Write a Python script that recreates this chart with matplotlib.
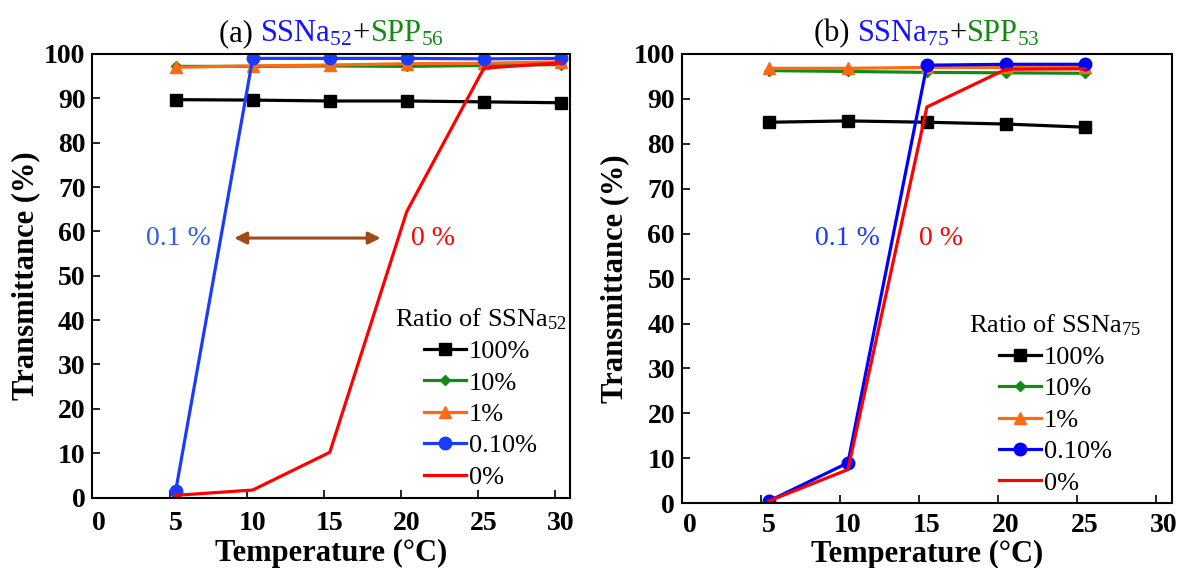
import matplotlib
matplotlib.use("Agg")
import matplotlib.pyplot as plt
from matplotlib.offsetbox import TextArea, HPacker, AnchoredOffsetbox
from matplotlib.transforms import ScaledTranslation

plt.rcParams['font.family'] = 'Liberation Serif'
plt.rcParams['mathtext.fontset'] = 'custom'
plt.rcParams['mathtext.rm'] = 'Liberation Serif'
plt.rcParams['mathtext.it'] = 'Liberation Serif:italic'
plt.rcParams['mathtext.bf'] = 'Liberation Serif:bold'

# panel (a) SSNa52 + SPP56
temp_a = [5.4, 10.4, 15.4, 20.4, 25.4, 30.4]
a_100 = [89.7, 89.6, 89.4, 89.4, 89.2, 89.0]
a_10 = [97.2, 97.2, 97.3, 97.2, 97.4, 97.6]
a_1 = [97.0, 97.3, 97.5, 97.8, 97.9, 98.2]
a_01 = [1.5, 99.0, 99.0, 99.0, 98.9, 99.0]
a_0 = [0.5, 1.7, 10.2, 64.5, 96.8, 98.0]

# panel (b) SSNa75 + SPP53
temp_b = [5.5, 10.5, 15.5, 20.5, 25.5]
b_100 = [84.8, 85.1, 84.8, 84.4, 83.7]
b_10 = [96.3, 96.1, 95.9, 95.8, 95.7]
b_1 = [96.8, 96.8, 97.0, 97.0, 97.0]
b_01 = [0.5, 9.0, 97.5, 97.7, 97.7]
b_0 = [0.5, 7.5, 88.2, 96.6, 96.7]

labels = ['100%', '10%', '1%', '0.10%', '0%']
xticks = [0, 5, 10, 15, 20, 25, 30]
yticks = list(range(0, 101, 10))

fig = plt.figure(figsize=(11.78, 5.68), dpi=100)
ax1 = fig.add_axes([0.0785, 0.124, 0.4055, 0.781])
ax2 = fig.add_axes([0.579, 0.114, 0.4157, 0.791])


def draw(ax, x, series, blue, sub, leg_x, lbl_shift, xpad, xlab_y):
    styles = [('black', 's', 8), ('#138a13', 'D', 5.5), ('#ff6a13', '^', 9),
              (blue, 'o', 9), ('#ff0000', None, 0)]
    for y, (c, m, ms), lab in zip(series, styles, labels):
        ax.plot(x, y, color=c, marker=m, markersize=ms, lw=2.3, label=lab)
    ax.set_xlim(0, 31)
    ax.set_ylim(0, 100)
    ax.set_xticks(xticks)
    ax.set_yticks(yticks)
    ax.tick_params(direction='in', length=6, width=1.2, labelsize=20, pad=5)
    ax.tick_params(axis='x', pad=xpad)
    for t in ax.get_xticklabels() + ax.get_yticklabels():
        t.set_fontweight('bold')
    for t in ax.get_xticklabels():
        t.set_transform(t.get_transform() + ScaledTranslation(lbl_shift / 100, 0, fig.dpi_scale_trans))
    for s in ax.spines.values():
        s.set_linewidth(1.5)
    ax.set_xlabel('Temperature (°C)', fontsize=22, fontweight='bold', va='center')
    ax.xaxis.set_label_coords(0.5, xlab_y)
    ax.set_ylabel('Transmittance (%)', fontsize=22, fontweight='bold', labelpad=3)
    leg = ax.legend(loc='lower right', bbox_to_anchor=(leg_x, -0.01), frameon=False,
                    title='Ratio of SSNa$_{' + sub + '}$', fontsize=19, title_fontsize=19,
                    handlelength=1.6, handletextpad=0.1, labelspacing=0.3,
                    borderaxespad=0.1)
    return leg


draw(ax1, temp_a, [a_100, a_10, a_1, a_01, a_0], '#1a3cff', '52', 1.02, 6, 10, -0.126)
draw(ax2, temp_b, [b_100, b_10, b_1, b_01, b_0], '#0000ff', '75', 0.965, 8, 7, -0.114)


def title(ax, tag, n1, n2):
    parts = [('(' + tag + ') ', 'black'), ('SSNa$_{' + n1 + '}$', '#1414ff'),
             ('+', 'black'), ('SPP$_{' + n2 + '}$', '#138a13')]
    boxes = [TextArea(s, textprops=dict(color=c, fontsize=22)) for s, c in parts]
    pack = HPacker(children=boxes, align='baseline', pad=0, sep=0)
    ab = AnchoredOffsetbox(loc='lower center', child=pack, frameon=False,
                           bbox_to_anchor=(0.5, 1.0), bbox_transform=ax.transAxes,
                           borderpad=0.0)
    ax.add_artist(ab)


title(ax1, 'a', '52', '56')
title(ax2, 'b', '75', '53')

# annotations
ax1.text(5.6, 58.5, '0.1 %', color='#2f5fe8', fontsize=20, ha='center', va='center')
ax1.text(22.1, 58.5, '0 %', color='#ff0000', fontsize=20, ha='center', va='center')
ax1.annotate('', xy=(9.2, 58.5), xytext=(18.7, 58.5),
             arrowprops=dict(arrowstyle='<|-|>', color='#9c4a1a', lw=2.2,
                             mutation_scale=18, shrinkA=0, shrinkB=0))
ax2.text(10.5, 59, '0.1 %', color='#1a3cff', fontsize=20, ha='center', va='center')
ax2.text(16.4, 59, '0 %', color='#ff0000', fontsize=20, ha='center', va='center')

fig.savefig('out.png', dpi=100)
